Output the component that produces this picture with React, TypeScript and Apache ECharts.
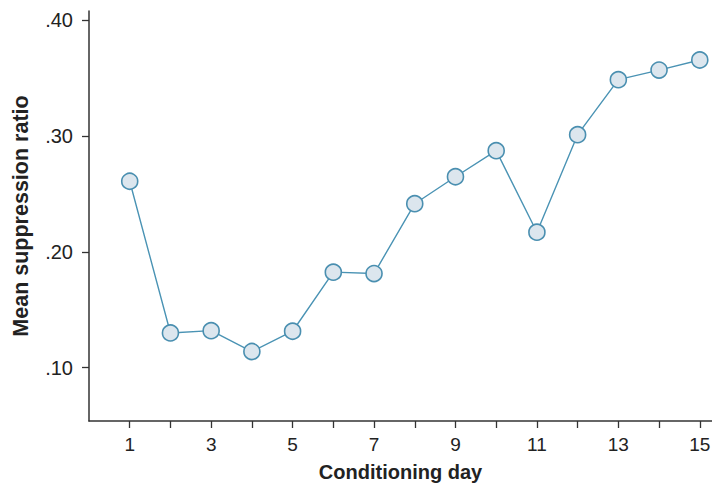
import React, { useEffect, useRef } from "react";
import * as echarts from "echarts";

const days = [1, 2, 3, 4, 5, 6, 7, 8, 9, 10, 11, 12, 13, 14, 15];
const suppression = [0.261, 0.13, 0.132, 0.114, 0.1315, 0.1825, 0.1813, 0.2416, 0.2649, 0.2874, 0.217, 0.3012, 0.3487, 0.357, 0.3657];
const xTicks = [1, 2, 3, 4, 5, 6, 7, 8, 9, 10, 11, 12, 13, 14, 15];
const xLabels = [1, 3, 5, 7, 9, 11, 13, 15];
const yTicks = [0.1, 0.2, 0.3, 0.4];

export default function App() {
  const ref = useRef<HTMLDivElement>(null);
  useEffect(() => {
    if (!ref.current) return;
    const chart = echarts.init(ref.current, null, { renderer: "svg" });
    const font = "'Liberation Sans', Arial, Helvetica, sans-serif";
    chart.setOption({
      animation: false,
      backgroundColor: "#ffffff",
      grid: { left: 89, right: 0, top: 11, bottom: 64, containLabel: false, outerBoundsMode: "none" },
      xAxis: {
        type: "value",
        min: 0,
        max: 15.3,
        name: "Conditioning day",
        nameLocation: "middle",
        nameGap: 41,
        nameTextStyle: { fontFamily: font, fontWeight: "bold", fontSize: 20, lineHeight: 20, color: "#222" },
        axisLine: { show: true, lineStyle: { color: "#333", width: 1.5 } },
        axisTick: { show: true, customValues: xTicks, length: 7, lineStyle: { color: "#333", width: 1.3 } },
        axisLabel: { customValues: xLabels, margin: 14, fontFamily: font, fontSize: 19, color: "#222" },
        splitLine: { show: false },
      },
      yAxis: {
        type: "value",
        min: 0.054,
        max: 0.408,
        name: "Mean suppression ratio",
        nameLocation: "middle",
        nameGap: 57,
        nameTextStyle: { fontFamily: font, fontWeight: "bold", fontSize: 21.5, color: "#222" },
        axisLine: { show: true, lineStyle: { color: "#333", width: 1.5 } },
        axisTick: { show: true, customValues: yTicks, length: 7, lineStyle: { color: "#333", width: 1.3 } },
        axisLabel: {
          customValues: yTicks,
          margin: 16,
          fontFamily: font,
          fontSize: 20,
          color: "#222",
          formatter: (v: number) => v.toFixed(2).replace(/^0/, ""),
        },
        splitLine: { show: false },
      },
      series: [
        {
          type: "line",
          data: days.map((d, i) => [d, suppression[i]]),
          symbol: "circle",
          symbolSize: 16,
          lineStyle: { color: "#4a93b4", width: 1.4 },
          itemStyle: { color: "#dce6ee", borderColor: "#4a8fb0", borderWidth: 1.6 },
          z: 3,
        },
      ],
    });
    return () => chart.dispose();
  }, []);
  return (
    <div
      ref={ref}
      style={{ position: "absolute", left: 0, top: 0, width: 712, height: 485 }}
    />
  );
}
